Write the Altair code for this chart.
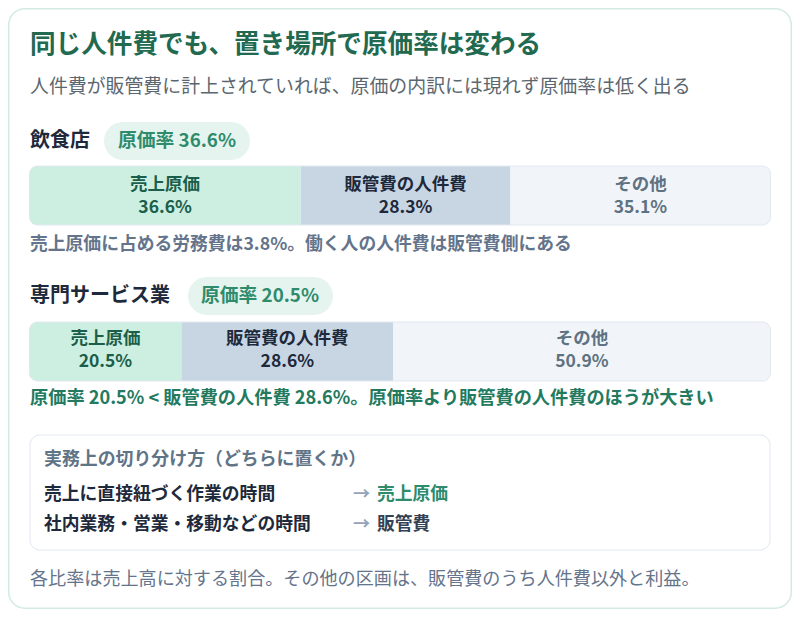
import altair as alt
import pandas as pd

# ---------------- data ----------------
industries = ["飲食店", "専門サービス業"]
segments = ["売上原価", "販管費の人件費", "その他"]
food_shares = [36.6, 28.3, 35.1]
service_shares = [20.5, 28.6, 50.9]
labor_in_cogs_food = 3.8

title = "同じ人件費でも、置き場所で原価率は変わる"
subtitle = "人件費が販管費に計上されていれば、原価の内訳には現れず原価率は低く出る"
note_food = f"売上原価に占める労務費は{labor_in_cogs_food}%。働く人の人件費は販管費側にある"
note_service = (f"原価率 {service_shares[0]}% < 販管費の人件費 {service_shares[1]}%。"
                "原価率より販管費の人件費のほうが大きい")
box_title = "実務上の切り分け方（どちらに置くか）"
rule_items = ["売上に直接紐づく作業の時間", "社内業務・営業・移動などの時間"]
rule_targets = ["売上原価", "販管費"]
footnote = "各比率は売上高に対する割合。その他の区画は、販管費のうち人件費以外と利益。"

# ---------------- style ----------------
FONT = "Noto Sans CJK JP"
SEG_FILL = ["#ccefe1", "#c8d6e3", "#f1f5f9"]
SEG_TEXT = ["#1b5e4a", "#1e293b", "#5f7282"]
GREEN = "#2e8b6b"
DARK = "#1e293b"
SLATE = "#64748b"

W, H = 784, 601
OFF = 8  # page margin offset, reference coords -> chart coords


def P(v):
    return v - OFF


def one():
    return pd.DataFrame({"k": [0]})


def text(txt, x, y, size, color, weight="normal", align="left"):
    return alt.Chart(pd.DataFrame({"t": [txt]})).mark_text(
        align=align, baseline="middle", font=FONT, fontSize=size,
        fontWeight=weight, color=color
    ).encode(x=alt.value(x), y=alt.value(y), text="t:N")


def box(x, x2, y, y2, radius, fill=None, stroke=None, sw=1.0):
    kw = dict(cornerRadius=radius)
    if fill is not None:
        kw["fill"] = fill
    else:
        kw["filled"] = False
    if stroke is not None:
        kw["stroke"] = stroke
        kw["strokeWidth"] = sw
    return alt.Chart(one()).mark_rect(**kw).encode(
        x=alt.value(x), x2=alt.value(x2), y=alt.value(y), y2=alt.value(y2))


layers = []
# card
layers.append(box(0.75, W - 0.75, 0.75, H - 0.75, 16, fill="white", stroke="#d3ebe1", sw=1.5))

layers.append(text(title, P(30), P(45), 25.6, "#21694f", "bold"))
layers.append(text(subtitle, P(30), P(87), 18.9, "#5b6770"))

xs = alt.Scale(domain=[0, 100], range=[P(29.5), P(770.5)])

industry_rows = [
    dict(name=industries[0], shares=food_shares, head_y=141, pill=(104, 250, 122, 160), pill_tx=118,
         bar=(166, 225), l1=185, l2=208, note=note_food, note_y=245, note_color=SLATE, note_size=17.8),
    dict(name=industries[1], shares=service_shares, head_y=296, pill=(188, 333, 277, 315), pill_tx=201,
         bar=(322, 381), l1=339, l2=362, note=note_service, note_y=399, note_color="#237a5e", note_size=18.2),
]

for row in industry_rows:
    layers.append(text(row["name"], P(30), P(row["head_y"]), 20, DARK, "bold"))
    px1, px2, py1, py2 = row["pill"]
    layers.append(box(P(px1), P(px2), P(py1), P(py2), 19, fill="#e5f4ee"))
    layers.append(text(f"原価率 {row['shares'][0]}%", P(row["pill_tx"]), P(row["head_y"]), 18.8, GREEN, 600))

    shares = row["shares"]
    starts = [sum(shares[:i]) for i in range(len(shares))]
    df = pd.DataFrame({
        "segment": segments,
        "value": shares,
        "start": starts,
        "end": [s + v for s, v in zip(starts, shares)],
    })
    df["mid"] = (df["start"] + df["end"]) / 2
    df["pct"] = df["value"].map(lambda v: f"{v:.1f}%")

    top, bot = P(row["bar"][0]), P(row["bar"][1])
    for i, seg in enumerate(segments):
        d = df[df["segment"] == seg]
        kw = dict(fill=SEG_FILL[i])
        if i == 0:
            kw.update(cornerRadiusTopLeft=8, cornerRadiusBottomLeft=8)
        if i == len(segments) - 1:
            kw.update(cornerRadiusTopRight=8, cornerRadiusBottomRight=8)
        layers.append(alt.Chart(d).mark_rect(**kw).encode(
            x=alt.X("start:Q", scale=xs, axis=None), x2="end:Q",
            y=alt.value(top), y2=alt.value(bot)))
    # outline
    layers.append(alt.Chart(pd.DataFrame({"s": [0], "e": [100]})).mark_rect(
        filled=False, stroke="#e2e8f0", strokeWidth=1, cornerRadius=8).encode(
        x=alt.X("s:Q", scale=xs, axis=None), x2="e:Q",
        y=alt.value(top), y2=alt.value(bot)))
    for i, seg in enumerate(segments):
        d = df[df["segment"] == seg]
        for field, yy in (("segment", row["l1"]), ("pct", row["l2"])):
            layers.append(alt.Chart(d).mark_text(
                align="center", baseline="middle", font=FONT, fontSize=17.5,
                fontWeight="bold", color=SEG_TEXT[i]).encode(
                x=alt.X("mid:Q", scale=xs, axis=None), y=alt.value(P(yy)),
                text=f"{field}:N"))

    layers.append(text(row["note"], P(30), P(row["note_y"]), row["note_size"], row["note_color"], "bold"))

# practical box
layers.append(box(P(30), P(770), P(435), P(550), 10, fill="white", stroke="#e2e8f0"))
layers.append(text(box_title, P(44), P(460), 17.9, "#5f7486", "bold"))
for item, target, yy, tcolor in zip(rule_items, rule_targets, [495, 525], [GREEN, "#334155"]):
    layers.append(text(item, P(44), P(yy), 17.8, DARK, "bold"))
    layers.append(text("→", P(353), P(yy), 17, "#94a3b8", "bold"))
    layers.append(text(target, P(377), P(yy), 17.8, tcolor, "bold"))

layers.append(text(footnote, P(30), P(580), 18.1, SLATE))

chart = alt.layer(*layers).properties(
    width=W, height=H, padding=0,
    autosize=alt.AutoSizeParams(type="none"),
    background="white",
).configure_view(stroke=None)

chart.save("out.html", embed_options={"renderer": "svg", "actions": False})
